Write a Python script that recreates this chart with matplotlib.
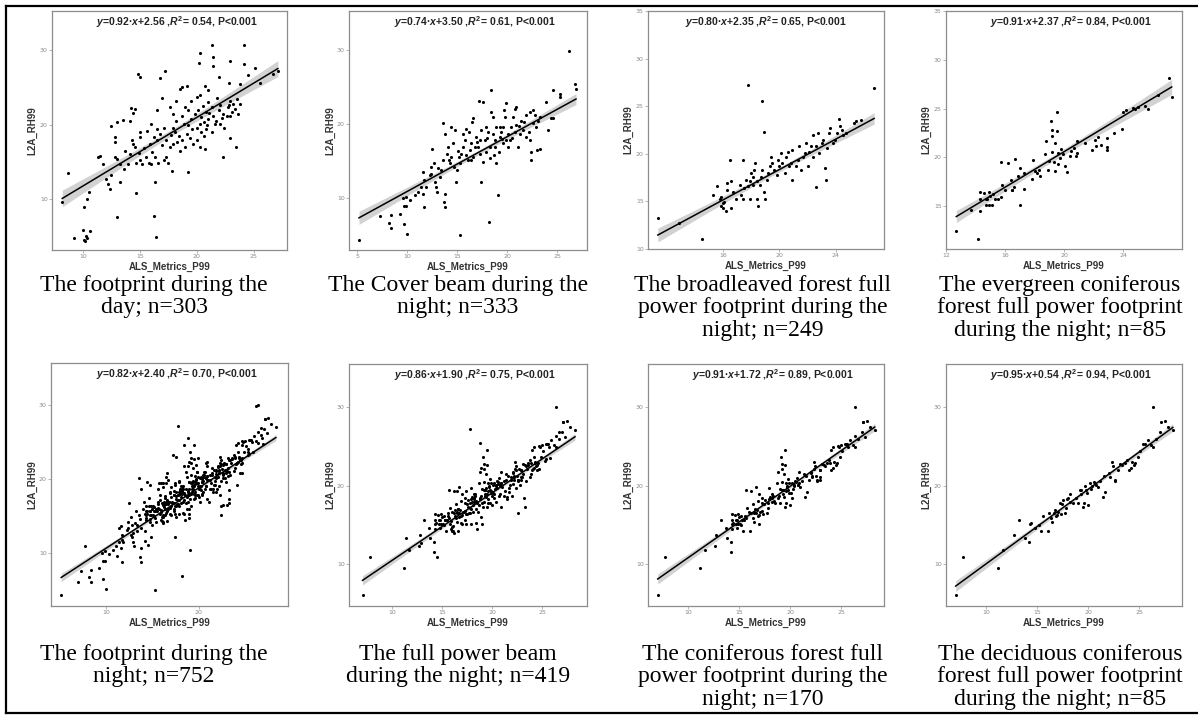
import numpy as np
import matplotlib
matplotlib.use("Agg")
import matplotlib.pyplot as plt
from matplotlib.lines import Line2D

plt.rcParams['mathtext.fontset'] = 'custom'
plt.rcParams['mathtext.it'] = 'Liberation Sans:italic:bold'
plt.rcParams['mathtext.rm'] = 'Liberation Sans:bold'

# ---- data (ALS_Metrics_P99, L2A_RH99) ----
day_pts = [
    (9.2, 4.8), (10.0, 5.9), (10.1, 4.5), (10.3, 5.1), (10.4, 4.8), (10.6, 5.8), (10.2, 4.4),
    (8.2, 9.6), (8.7, 13.5), (10.1, 9.0), (10.4, 10.0), (10.5, 10.9), (13.0, 7.6), (14.7, 10.8),
    (16.2, 7.8), (16.3, 12.3), (16.4, 4.9),
    (14.8, 26.7), (15.0, 26.4), (16.8, 26.2), (17.2, 27.2), (16.9, 23.6), (18.5, 24.8), (18.7, 25.0),
    (19.1, 25.2), (20.2, 28.3), (20.3, 29.6), (21.3, 30.6), (21.4, 29.0), (21.4, 27.9), (22.9, 28.5),
    (24.1, 30.6), (24.1, 28.1), (25.1, 27.6), (21.9, 26.3), (22.8, 25.5), (23.8, 25.4), (24.5, 26.6),
    (25.5, 25.5), (26.7, 26.7), (27.1, 27.2), (20.7, 25.2), (21.0, 24.6), (20.0, 23.7), (20.3, 23.9),
    (19.5, 23.2), (19.2, 21.9), (18.2, 23.2), (17.6, 22.3), (17.9, 21.4), (16.5, 21.9),
    (11.3, 15.6), (11.5, 15.8), (11.8, 14.7), (12.0, 12.7), (12.2, 12.1), (12.4, 11.4), (12.5, 13.3),
    (12.8, 15.6), (13.0, 15.4), (12.8, 18.3), (12.8, 17.6), (13.3, 14.7), (13.3, 12.3), (13.6, 14.0),
    (13.7, 16.5), (14.0, 14.7), (14.1, 16.1), (14.3, 17.9), (14.4, 17.4), (14.6, 17.0), (12.5, 19.8),
    (13.0, 20.3), (13.5, 20.6), (14.2, 22.2), (14.4, 21.6), (14.6, 22.1), (14.1, 20.5), (15.0, 19.0),
    (15.0, 18.3),
    (14.7, 14.9), (15.0, 15.2), (15.2, 14.7), (15.5, 15.6), (15.8, 14.9), (16.0, 14.7), (16.3, 15.6),
    (16.6, 14.9), (17.1, 15.2), (17.3, 15.6), (17.5, 14.9), (17.8, 13.8), (15.9, 17.4), (16.2, 18.3),
    (16.5, 17.9), (16.8, 18.7), (17.1, 19.6), (17.3, 17.9), (17.6, 17.0), (17.9, 17.4), (18.1, 19.0),
    (18.4, 18.5), (18.5, 16.5), (18.7, 17.9), (19.0, 17.0), (19.1, 18.7), (19.2, 19.9), (19.5, 20.8),
    (19.7, 17.4), (20.0, 17.9), (20.3, 17.0), (20.7, 16.7), (19.2, 13.7), (16.0, 20.1), (16.5, 19.4),
    (15.6, 19.2),
    (19.8, 21.4), (20.1, 21.9), (20.4, 21.0), (20.6, 20.3), (20.8, 21.7), (21.0, 20.8), (21.3, 22.3),
    (21.4, 21.2), (21.7, 20.5), (21.9, 21.9), (22.0, 22.6), (22.3, 21.4), (22.6, 21.2), (22.7, 22.3),
    (22.9, 23.2), (23.2, 22.8), (23.3, 22.1), (23.5, 23.4), (23.6, 21.4), (23.8, 22.8), (20.3, 20.1),
    (20.0, 19.6), (20.8, 19.4), (21.3, 19.0), (20.4, 19.0), (22.0, 20.1), (22.4, 19.6), (22.9, 21.2),
    (18.7, 21.2), (19.0, 22.3), (18.2, 20.5), (17.9, 19.6), (21.0, 23.0),
    (23.4, 17.0), (22.9, 18.2), (22.3, 15.6),
    (18.9, 20.1), (19.4, 18.2), (20.6, 18.4), (21.1, 21.6), (21.6, 20.1), (22.2, 20.9), (22.8, 22.6),
    (23.1, 21.7), (18.3, 17.7), (17.7, 18.6), (16.9, 17.2), (16.1, 16.3), (15.4, 16.8), (14.9, 16.2),
    (20.5, 22.5), (21.8, 23.6), (19.6, 19.4), (20.9, 20.0),
]

cover_night_pts = [
    (5.2, 4.3), (7.3, 7.6), (8.2, 6.7), (8.4, 6.0), (8.4, 7.7), (9.3, 7.9), (9.7, 8.9), (9.9, 8.9),
    (9.7, 6.5), (10.0, 5.1), (9.6, 10.0), (9.9, 10.2), (10.3, 9.8), (10.8, 10.4), (11.1, 10.9),
    (11.4, 11.5), (11.6, 10.6), (11.7, 8.8), (11.7, 12.4), (11.6, 13.6), (11.9, 11.5), (12.3, 13.1),
    (12.4, 14.2), (12.4, 13.3), (12.5, 16.7), (12.8, 12.2), (12.9, 11.5), (13.0, 10.9), (13.3, 12.9),
    (13.4, 13.8), (13.6, 15.1), (13.7, 9.5), (13.8, 8.8), (13.8, 10.6), (13.6, 20.1), (13.8, 18.7),
    (14.1, 16.9), (14.0, 16.0), (14.3, 14.7), (14.4, 15.6), (14.6, 17.4), (14.4, 19.6), (14.8, 19.2),
    (14.9, 12.2), (15.0, 13.8), (15.3, 14.7), (15.2, 15.6), (15.4, 16.0), (15.6, 16.9), (15.8, 17.8),
    (15.9, 19.4), (15.6, 18.7), (16.1, 15.1), (16.3, 16.5), (16.4, 17.4), (16.6, 15.6), (16.6, 20.8),
    (16.5, 20.3), (16.9, 18.3), (17.1, 16.9), (17.2, 23.2), (17.3, 16.0), (17.4, 12.2), (17.6, 23.0),
    (17.8, 17.8), (17.9, 16.3), (18.1, 19.0), (18.3, 15.4), (18.4, 24.6), (18.4, 21.7), (18.6, 21.0),
    (18.8, 16.9), (18.8, 17.8), (18.9, 14.7), (19.1, 10.4), (18.2, 6.8), (15.3, 5.0), (19.2, 16.3),
    (19.3, 18.3), (19.4, 19.0), (19.6, 19.6), (19.7, 21.9), (19.9, 22.8), (20.1, 18.7), (20.3, 17.8),
    (20.1, 16.9), (20.4, 19.6), (20.6, 21.0), (20.8, 22.1), (20.9, 22.3), (21.1, 16.9), (21.3, 18.7),
    (21.4, 20.5), (21.6, 19.2), (21.7, 20.3), (21.9, 21.2), (22.3, 21.7), (22.3, 17.8), (22.4, 16.3),
    (22.4, 15.1), (22.6, 20.1), (22.6, 21.9), (22.8, 21.2), (22.9, 19.6), (23.0, 16.5), (23.3, 16.7),
    (23.3, 21.0), (23.9, 23.0), (24.1, 19.2), (24.4, 20.8), (24.6, 20.8), (24.6, 24.6), (25.3, 24.1),
    (25.3, 23.7), (26.2, 29.9), (26.8, 25.5), (26.9, 24.7),
    (19.3, 19.6), (19.8, 21.0), (20.8, 19.0), (20.9, 19.9), (17.9, 19.6), (17.4, 19.2), (17.3, 17.8),
    (16.8, 16.9), (16.4, 15.1), (18.9, 19.6), (18.6, 18.7), (18.3, 16.9), (19.6, 17.4), (19.9, 17.8),
    (22.2, 19.0),
    (14.2, 15.2), (14.7, 14.2), (15.1, 16.4), (15.9, 15.8), (16.2, 18.9), (17.0, 17.6), (17.6, 14.9),
    (18.0, 18.2), (18.7, 15.9), (19.5, 18.0), (20.5, 18.2), (21.2, 19.8), (21.9, 18.3), (23.1, 20.4),
    (13.1, 14.1), (12.7, 14.8),
]

broadleaved_pts = [
    (11.4, 13.3), (12.9, 12.7), (14.5, 11.0), (15.3, 15.7), (15.8, 15.2), (15.9, 15.5), (16.0, 14.8),
    (15.9, 14.5), (16.0, 14.3), (16.2, 14.0), (16.1, 14.9), (16.3, 16.2), (16.5, 19.4), (16.6, 17.1),
    (16.6, 14.3), (16.7, 16.0), (16.9, 15.3), (17.2, 16.7), (17.3, 15.7), (17.4, 15.2), (17.5, 16.4),
    (17.6, 17.3), (17.8, 16.6), (17.9, 17.1), (17.9, 15.2), (18.0, 18.0), (18.1, 17.6), (18.1, 16.7),
    (18.2, 18.3), (18.3, 19.0), (18.4, 17.1), (18.4, 15.3), (18.5, 14.5), (18.6, 16.7), (18.7, 17.6),
    (18.8, 18.3), (18.9, 16.0), (19.0, 15.2), (19.1, 17.3), (19.2, 18.0), (19.3, 18.7), (19.4, 19.7),
    (19.5, 19.0), (19.6, 18.3), (19.8, 17.8), (19.9, 19.4), (20.0, 18.7), (20.1, 20.1), (20.2, 19.0),
    (20.4, 18.0), (20.5, 19.7), (20.6, 20.2), (20.7, 18.7), (20.8, 19.0), (20.9, 17.3), (20.9, 20.4),
    (21.2, 18.7), (21.3, 19.4), (21.4, 20.8), (21.5, 18.3), (21.7, 19.7), (21.8, 20.1), (21.9, 21.1),
    (22.0, 18.7), (22.1, 20.2), (22.2, 20.8), (22.4, 22.0), (22.4, 19.7), (22.6, 16.5), (22.6, 20.8),
    (22.7, 22.2), (22.8, 20.1), (23.0, 21.1), (23.1, 21.5), (23.2, 18.5), (23.3, 17.3), (23.4, 20.6),
    (23.5, 22.2), (23.6, 22.7), (23.8, 21.1), (23.9, 21.5), (24.1, 22.2), (24.2, 23.7), (24.3, 22.9),
    (24.4, 22.5), (24.5, 22.0), (24.7, 22.2), (25.3, 23.2), (25.4, 23.4), (25.8, 23.6), (26.7, 26.9),
    (17.8, 27.2), (18.8, 25.5), (18.9, 22.3), (17.4, 19.4), (16.3, 16.9), (15.6, 16.6),
]

evergreen_pts = [
    (12.7, 12.4), (14.2, 11.6), (14.3, 16.4), (14.3, 15.7), (14.3, 14.5), (13.7, 14.6), (14.6, 16.3),
    (14.7, 15.7), (14.7, 15.1), (14.8, 15.7), (14.9, 15.1), (14.9, 16.4), (15.0, 16.0), (15.1, 15.1),
    (15.2, 16.2), (15.3, 15.7), (15.5, 15.7), (15.7, 15.9), (15.8, 17.2), (15.7, 19.5), (16.0, 16.7),
    (16.5, 16.7), (16.5, 16.6), (16.4, 17.7), (16.2, 19.4), (16.7, 19.8), (17.0, 18.9), (16.9, 18.1),
    (17.3, 16.8), (17.0, 15.1), (17.8, 17.8), (17.9, 19.7), (18.2, 18.4), (18.3, 18.7), (18.4, 18.1),
    (18.7, 20.3), (18.8, 21.7), (18.9, 18.7), (19.0, 19.6), (19.1, 23.7), (19.2, 22.8), (19.2, 22.2),
    (19.2, 20.5), (19.3, 19.5), (19.4, 21.5), (19.4, 18.6), (19.5, 22.7), (19.5, 24.6), (19.6, 20.4),
    (19.6, 19.3), (19.7, 19.9), (19.8, 20.9), (19.9, 20.3), (20.1, 19.1), (20.2, 18.5), (20.4, 20.1),
    (20.7, 21.0), (20.8, 20.1), (20.9, 20.4), (20.9, 21.7), (21.9, 20.7), (22.1, 21.8), (22.2, 21.2),
    (22.3, 22.1), (22.9, 21.1), (22.9, 20.8), (22.9, 22.0), (23.9, 22.9), (24.0, 24.6), (24.2, 24.9),
    (24.7, 25.1), (24.8, 25.0), (25.0, 25.2), (25.7, 25.0), (26.4, 26.4), (27.1, 28.1), (27.3, 26.2),
    (17.3, 18.4), (16.6, 17.0), (21.4, 21.5), (22.5, 21.3), (23.4, 22.5), (25.5, 25.3), (18.0, 18.6),
    (20.5, 20.6),
]

deciduous_pts = [
    (7.05, 6.1), (7.8, 10.9), (11.2, 9.6), (11.7, 11.8), (12.8, 13.8), (13.2, 15.6), (13.8, 13.3),
    (14.2, 12.9), (14.3, 15.1), (14.4, 15.3), (15.2, 15.0), (15.4, 14.2), (15.6, 16.1), (16.1, 14.2),
    (16.2, 16.5), (16.4, 15.9), (16.5, 15.4), (16.7, 16.6), (16.8, 16.9), (17.0, 16.3), (17.1, 16.7),
    (17.3, 17.8), (17.4, 16.4), (17.5, 17.7), (17.6, 18.2), (17.7, 16.6), (17.9, 18.3), (18.0, 18.5),
    (18.2, 18.9), (18.5, 17.8), (19.0, 17.8), (19.2, 19.5), (19.3, 19.5), (19.3, 19.0), (19.5, 17.3),
    (19.6, 17.8), (19.7, 20.0), (19.8, 19.5), (20.0, 17.5), (20.2, 20.3), (20.4, 20.0), (20.6, 20.5),
    (20.8, 20.1), (21.5, 18.6), (21.6, 21.2), (21.7, 19.2), (22.2, 21.1), (22.3, 23.0), (22.4, 22.5),
    (22.6, 20.6), (22.6, 20.7), (23.1, 22.8), (23.3, 22.6), (23.6, 22.9), (24.0, 22.0), (24.2, 22.3),
    (24.3, 23.0), (24.5, 22.6), (24.6, 22.9), (25.4, 25.3), (25.6, 25.3), (25.9, 25.8), (26.2, 25.2),
    (26.4, 24.9), (26.4, 30.0), (27.0, 26.8), (27.1, 28.1), (27.5, 28.3), (27.8, 27.5), (28.3, 27.1),
    (18.2, 18.0), (21.0, 19.9), (22.9, 22.0), (24.9, 23.7), (26.7, 25.9), (16.9, 16.1), (18.8, 18.4),
    (21.2, 20.6), (23.8, 23.3), (25.1, 24.4), (14.8, 14.6), (20.3, 19.6), (22.1, 21.6), (17.8, 17.2),
    (19.9, 19.1),
]

# night groups are unions of the sub-groups (333 + 419 = 752, 249 + 170 = 419, 85 + 85 = 170)
coniferous_pts = evergreen_pts + deciduous_pts
full_power_pts = broadleaved_pts + coniferous_pts
night_pts = cover_night_pts + full_power_pts

captions = [
    "The footprint during the\nday; n=303",
    "The Cover beam during the\nnight; n=333",
    "The broadleaved forest full\npower footprint during the\nnight; n=249",
    "The evergreen coniferous\nforest full power footprint\nduring the night; n=85",
    "The footprint during the\nnight; n=752",
    "The full power beam\nduring the night; n=419",
    "The coniferous forest full\npower footprint during the\nnight; n=170",
    "The deciduous coniferous\nforest full power footprint\nduring the night; n=85",
]
slopes = [0.92, 0.74, 0.80, 0.91, 0.82, 0.86, 0.91, 0.95]
intercepts = [2.56, 3.50, 2.35, 2.37, 2.40, 1.90, 1.72, 0.54]
r2 = [0.54, 0.61, 0.65, 0.84, 0.70, 0.75, 0.89, 0.94]
n_obs = [303, 333, 249, 85, 752, 419, 170, 85]
datasets = [day_pts, cover_night_pts, broadleaved_pts, evergreen_pts,
            night_pts, full_power_pts, coniferous_pts, deciduous_pts]

# ---- layout (pixel boxes of the panel frames) ----
W, H = 1198, 718
frames = [(52, 287, 11, 250), (349, 587, 11, 250), (648, 884, 11, 249), (946, 1182, 11, 249),
          (51, 288, 363, 606), (349, 587, 364, 606), (648, 884, 364, 606), (946, 1182, 364, 606)]
xlims = [(7.3, 27.9), (4.2, 28.0), (10.7, 27.4), (12.0, 28.0),
         (4.1, 29.6), (5.7, 29.5), (6.1, 29.2), (6.1, 29.2)]
ylims = [(3.2, 35.2), (3.0, 35.3), (10.0, 35.0), (10.6, 35.0),
         (2.8, 35.7), (4.7, 35.5), (4.7, 35.5), (4.7, 35.5)]
xticks = [[10, 15, 20, 25], [5, 10, 15, 20, 25], [16, 20, 24], [12, 16, 20, 24],
          [10, 20], [10, 15, 20, 25], [10, 15, 20, 25], [10, 15, 20, 25]]
yticks = [[10, 20, 30], [10, 20, 30], [10, 15, 20, 25, 30, 35], [15, 20, 25, 30, 35],
          [10, 20, 30], [10, 20, 30], [10, 20, 30], [10, 20, 30]]
eq_x = [0.53, 0.53, 0.50, 0.53, 0.53, 0.53, 0.53, 0.53]
col_centers = [154, 458, 763, 1060]
caption_tops = [275, 644]

fig = plt.figure(figsize=(W / 100, H / 100), dpi=100)

for i, pts in enumerate(datasets):
    L, R, T, B = frames[i]
    ax = fig.add_axes([L / W, 1 - B / H, (R - L) / W, (B - T) / H])
    x = np.array([p[0] for p in pts])
    y = np.array([p[1] for p in pts])
    a, b = slopes[i], intercepts[i]

    # 95% band of the fitted mean, using the reported sample size
    xs = np.linspace(x.min(), x.max(), 100)
    resid = y - (a * x + b)
    s = np.sqrt(np.sum(resid ** 2) / (len(x) - 2))
    n = n_obs[i]
    se = s * np.sqrt(1 / n + (xs - x.mean()) ** 2 / (n * x.var()))
    ax.fill_between(xs, a * xs + b - 1.97 * se, a * xs + b + 1.97 * se,
                    color='#d2d2d2', lw=0, zorder=1)
    ax.scatter(x, y, s=5, color='black', lw=0, zorder=2)
    ax.plot(xs, a * xs + b, color='black', lw=1.1, zorder=3)

    ax.set_xlim(*xlims[i])
    ax.set_ylim(*ylims[i])
    ax.set_xticks(xticks[i])
    ax.set_yticks(yticks[i])
    ax.tick_params(labelsize=4.5, labelcolor='#8a8a8a', color='#9a9a9a',
                   length=2, width=0.5, pad=1)
    for sp in ax.spines.values():
        sp.set_color('#8c8c8c')
        sp.set_linewidth(0.9)
    ax.set_xlabel("ALS_Metrics_P99", fontsize=7, family='Liberation Sans',
                  fontweight='bold', color='#333333', labelpad=2)
    ax.set_ylabel("L2A_RH99", fontsize=7, family='Liberation Sans',
                  fontweight='bold', color='#333333', labelpad=1.5)
    eq = (r"$y$=%.2f·$x$+%.2f ,$R^2$= %.2f, P<0.001" % (a, b, r2[i]))
    ax.text(eq_x[i], 0.955, eq, transform=ax.transAxes, ha='center', va='center',
            fontsize=7.5, family='Liberation Sans', fontweight='bold', color='#222222')

    row, col = divmod(i, 4)
    fig.text(col_centers[col] / W, 1 - caption_tops[row] / H, captions[i],
             ha='center', va='top', multialignment='center',
             fontsize=17, family='Liberation Serif', linespacing=1.08)

# table rules
lw = 1.6
fig.add_artist(Line2D([6 / W, 1], [1 - 6 / H] * 2, color='black', lw=lw))
fig.add_artist(Line2D([6 / W, 6 / W], [1 - 6 / H, 1 - 713 / H], color='black', lw=lw))
fig.add_artist(Line2D([6 / W, 1], [1 - 713 / H] * 2, color='black', lw=lw))

fig.savefig("out.png", dpi=100)
